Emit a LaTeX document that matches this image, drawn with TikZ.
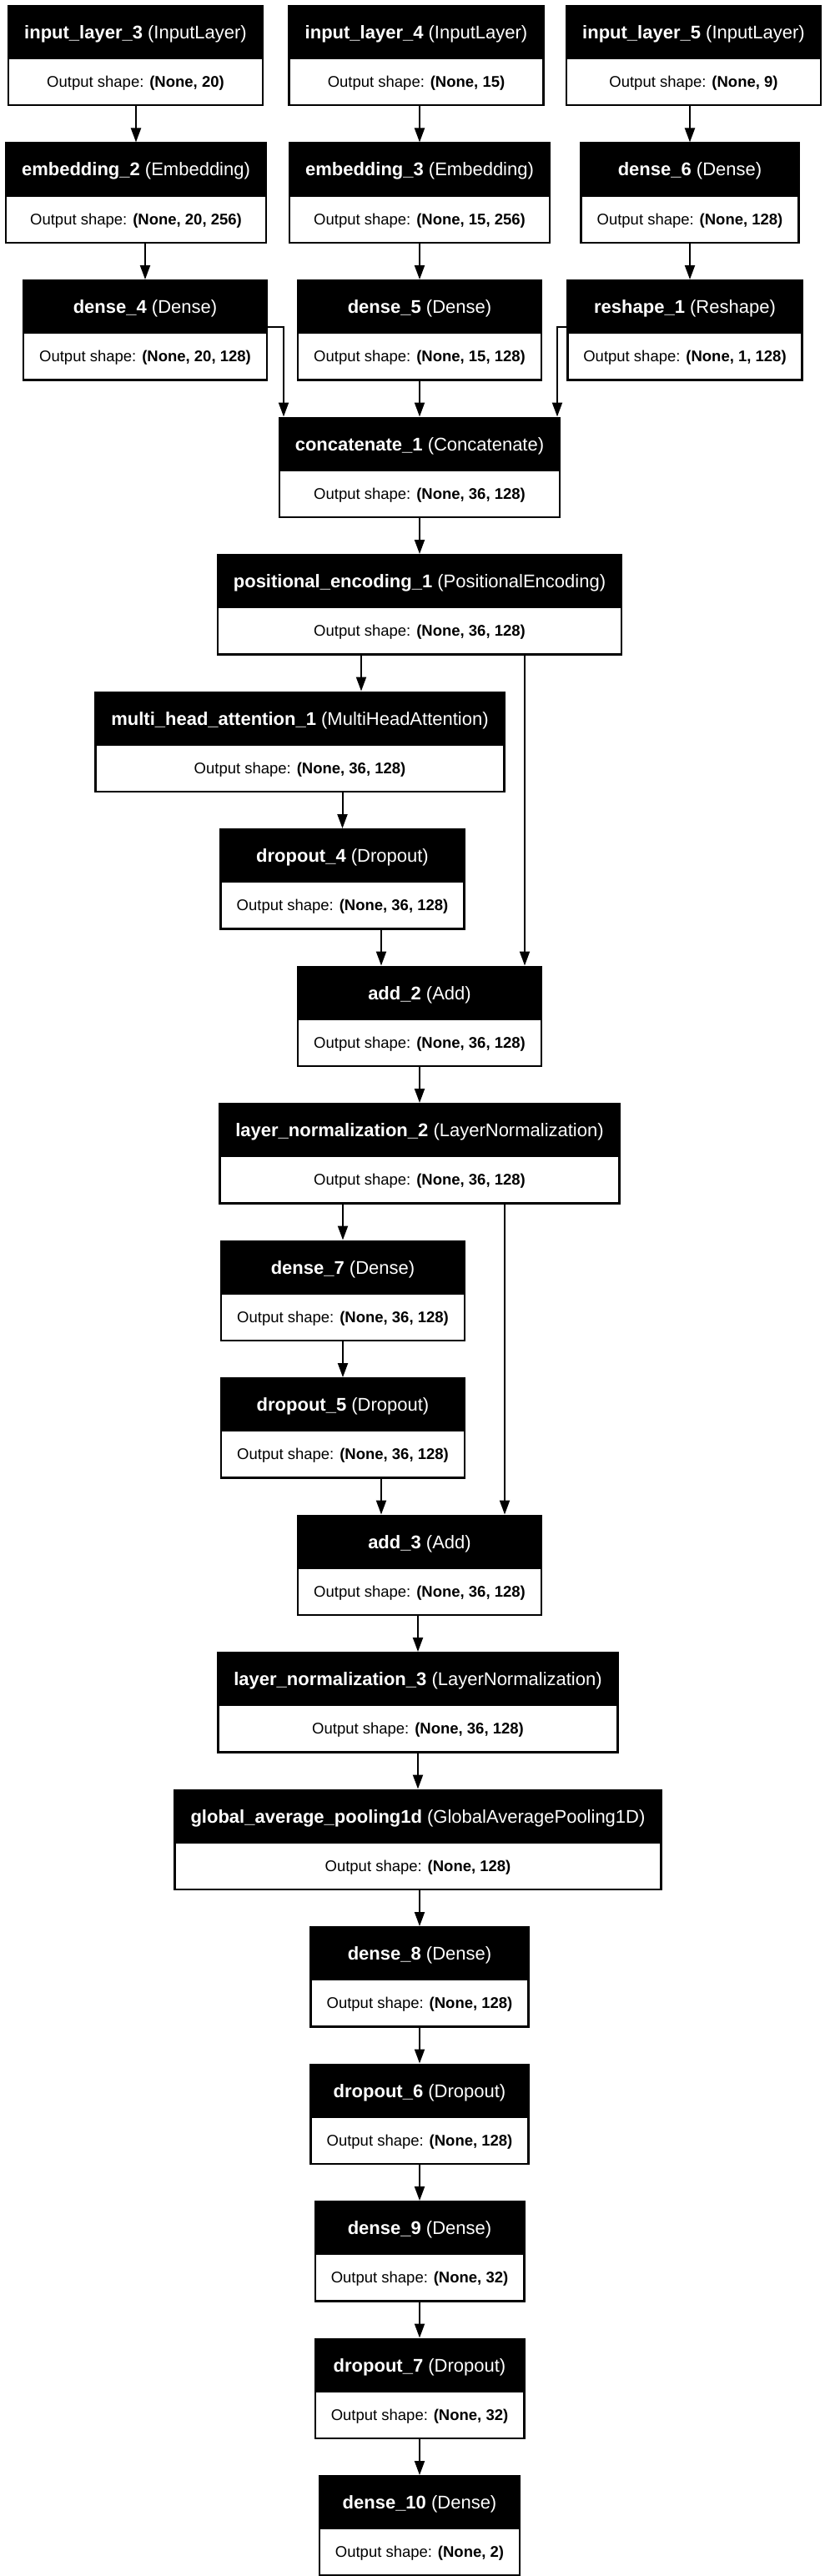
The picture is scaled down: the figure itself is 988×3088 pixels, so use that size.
\documentclass[tikz,border=0pt]{standalone}
\usepackage{fontspec}
\setmainfont{Liberation Sans}
\usetikzlibrary{positioning,arrows.meta,shapes.multipart}
\tikzset{
  layer/.style={rectangle split, rectangle split parts=2, draw=black, line width=2.5pt,
    rectangle split part fill={black,white}, inner xsep=19pt, inner ysep=0pt, anchor=north},
  arr/.style={-{Triangle[length=17pt,width=12pt]}, line width=2pt, color=black},
}
\newcommand{\hstrut}{\rule[-22pt]{0pt}{60pt}}
\newcommand{\bstrut}{\rule[-20.5pt]{0pt}{54pt}}

\begin{document}
\begin{tikzpicture}[x=1pt, y=-1pt]
    \newcommand{\ly}[3]{{\fontsize{22pt}{26pt}\selectfont\color{white}\textbf{#1} #2\hstrut}\nodepart{two}{\fontsize{18.5pt}{22pt}\selectfont Output shape: \textbf{#3}\bstrut}}
    \useasboundingbox (0,0) rectangle (988,3088);
    % three input branches
    \node[layer] (in3) at (162.5,6) {\ly{input\_layer\_3}{(InputLayer)}{(None, 20)}};
    \node[layer] (in4) at (499,6) {\ly{input\_layer\_4}{(InputLayer)}{(None, 15)}};
    \node[layer] (in5) at (831.5,6) {\ly{input\_layer\_5}{(InputLayer)}{(None, 9)}};
    \node[layer] (emb2) at (163,170.5) {\ly{embedding\_2}{(Embedding)}{(None, 20, 256)}};
    \node[layer] (emb3) at (503,170.5) {\ly{embedding\_3}{(Embedding)}{(None, 15, 256)}};
    \node[layer] (d6) at (827,170.5) {\ly{dense\_6}{(Dense)}{(None, 128)}};
    \node[layer] (d4) at (174,335) {\ly{dense\_4}{(Dense)}{(None, 20, 128)}};
    \node[layer] (d5) at (503,335) {\ly{dense\_5}{(Dense)}{(None, 15, 128)}};
    \node[layer] (rs1) at (821,335) {\ly{reshape\_1}{(Reshape)}{(None, 1, 128)}};
    % main column
    \node[layer] (cat) at (503,499.5) {\ly{concatenate\_1}{(Concatenate)}{(None, 36, 128)}};
    \node[layer] (pe) at (503,664) {\ly{positional\_encoding\_1}{(PositionalEncoding)}{(None, 36, 128)}};
    \node[layer] (mha) at (359.5,828.5) {\ly{multi\_head\_attention\_1}{(MultiHeadAttention)}{(None, 36, 128)}};
    \node[layer] (do4) at (410.5,993) {\ly{dropout\_4}{(Dropout)}{(None, 36, 128)}};
    \node[layer] (add2) at (503,1157.5) {\ly{add\_2}{(Add)}{(None, 36, 128)}};
    \node[layer] (ln2) at (503,1322) {\ly{layer\_normalization\_2}{(LayerNormalization)}{(None, 36, 128)}};
    \node[layer] (d7) at (411,1486.5) {\ly{dense\_7}{(Dense)}{(None, 36, 128)}};
    \node[layer] (do5) at (411,1651) {\ly{dropout\_5}{(Dropout)}{(None, 36, 128)}};
    \node[layer] (add3) at (503,1815.5) {\ly{add\_3}{(Add)}{(None, 36, 128)}};
    \node[layer] (ln3) at (501,1980) {\ly{layer\_normalization\_3}{(LayerNormalization)}{(None, 36, 128)}};
    \node[layer] (gap) at (501,2144.5) {\ly{global\_average\_pooling1d}{(GlobalAveragePooling1D)}{(None, 128)}};
    \node[layer] (d8) at (503,2309) {\ly{dense\_8}{(Dense)}{(None, 128)}};
    \node[layer] (do6) at (503,2473.5) {\ly{dropout\_6}{(Dropout)}{(None, 128)}};
    \node[layer] (d9) at (503,2638) {\ly{dense\_9}{(Dense)}{(None, 32)}};
    \node[layer] (do7) at (503,2802.5) {\ly{dropout\_7}{(Dropout)}{(None, 32)}};
    \node[layer] (d10) at (503,2967) {\ly{dense\_10}{(Dense)}{(None, 2)}};
    % edges
    \foreach \i/\j in {in3/emb2,in4/emb3,in5/d6,emb2/d4,emb3/d5,d5/cat,cat/pe,mha/do4,add2/ln2,ln2/d7,d7/do5,add3/ln3,ln3/gap,gap/d8,d8/do6,do6/d9,d9/do7,do7/d10}
      \draw[arr] (\i.south -| \j.north) -- (\j.north);
    \foreach \i/\j/\x in {d6/rs1/827,pe/mha/433,do4/add2/457,pe/add2/629,do5/add3/457,ln2/add3/605}
      \draw[arr] (\i.south -| \x,0) -- (\j.north -| \x,0);
    \draw[arr] ([yshift=-57pt]d4.north east) -| (cat.north -| 340,0);
    \draw[arr] ([yshift=-57pt]rs1.north west) -| (cat.north -| 668,0);
\end{tikzpicture}
\end{document}
